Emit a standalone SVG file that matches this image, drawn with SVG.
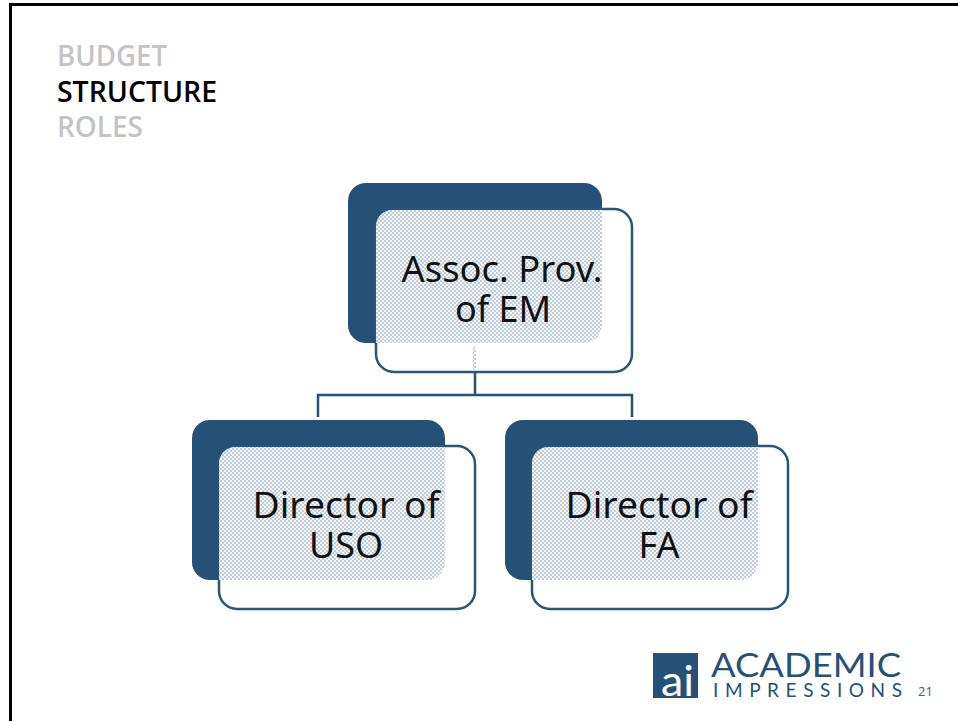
<svg xmlns="http://www.w3.org/2000/svg" width="958" height="721" viewBox="0 0 958 721">
<style>
.back{fill:#255176}
.front{fill:#fff;stroke:#2b5679;stroke-width:2.500}
.dither{fill:url(#dots)}
.lbl{font-family:"Noto Sans","Open Sans",sans-serif;font-size:36px;fill:#111;text-anchor:middle}
.head{font-family:"Open Sans","Noto Sans",sans-serif;font-size:28px;font-weight:600}
.conn{fill:none;stroke:#255176;stroke-width:2.500}
</style>
<defs>
<pattern id="dots" width="4" height="4" patternUnits="userSpaceOnUse">
<rect width="4" height="4" fill="#f4f6f8"/>
<rect x="0" y="0" width="2" height="2" fill="#c2cfda"/>
<rect x="2" y="2" width="2" height="2" fill="#c2cfda"/>
</pattern>
</defs>
<rect width="958" height="721" fill="#fff"/>
<path d="M958 4.500H10.500V721" fill="none" stroke="#000" stroke-width="3"/>
<g id="headings">
<text class="head" x="57" y="66" fill="#c4c4c4" textLength="110" lengthAdjust="spacingAndGlyphs">BUDGET</text>
<text class="head" x="57" y="102" fill="#000" textLength="160" lengthAdjust="spacingAndGlyphs">STRUCTURE</text>
<text class="head" x="57" y="137" fill="#c4c4c4" textLength="86" lengthAdjust="spacingAndGlyphs">ROLES</text>
</g>
<g id="connectors">
<path class="conn" d="M475 372V395M318 417V395H632V417"/>
</g>
<g id="node-assoc">
<rect class="back" x="348" y="183" width="254" height="160" rx="18"/>
<rect class="front" x="376" y="209" width="256" height="163" rx="18"/>
<path class="dither" d="M392 210H602V325A18 18 0 0 1 584 343H376V226A16 16 0 0 1 392 210Z"/>
<rect x="473" y="347" width="3" height="24" class="dither"/>
<text class="lbl" x="502" y="282" textLength="201" lengthAdjust="spacingAndGlyphs">Assoc. Prov.</text>
<text class="lbl" x="503" y="322">of EM</text>
</g>
<g id="node-uso">
<rect class="back" x="192" y="420" width="253" height="160" rx="18"/>
<rect class="front" x="219" y="446" width="256" height="163" rx="18"/>
<path class="dither" d="M235 447H445V562A18 18 0 0 1 427 580H219V463A16 16 0 0 1 235 447Z"/>
<text class="lbl" x="346" y="518" textLength="187" lengthAdjust="spacingAndGlyphs">Director of</text>
<text class="lbl" x="346" y="558">USO</text>
</g>
<g id="node-fa">
<rect class="back" x="505" y="420" width="253" height="160" rx="18"/>
<rect class="front" x="532" y="446" width="256" height="163" rx="18"/>
<path class="dither" d="M548 447H758V562A18 18 0 0 1 740 580H532V463A16 16 0 0 1 548 447Z"/>
<text class="lbl" x="659" y="518" textLength="187" lengthAdjust="spacingAndGlyphs">Director of</text>
<text class="lbl" x="659" y="558">FA</text>
</g>
<g id="logo">
<rect x="653" y="653" width="45" height="45" fill="#255176"/>
<text x="661" y="696" font-family="Lato,'Open Sans',sans-serif" font-size="42" fill="#fff" textLength="33" lengthAdjust="spacingAndGlyphs">ai</text>
<text x="711" y="677" font-family="Lato,'Open Sans',sans-serif" font-size="33" fill="#255176" textLength="190" lengthAdjust="spacingAndGlyphs">ACADEMIC</text>
<text x="713" y="697" font-family="Lato,'Open Sans',sans-serif" font-size="19" fill="#255176" textLength="189" lengthAdjust="spacing">IMPRESSIONS</text>
</g>
<text x="918" y="696" font-family="'Open Sans','Noto Sans',sans-serif" font-size="13" fill="#595959">21</text>
</svg>
